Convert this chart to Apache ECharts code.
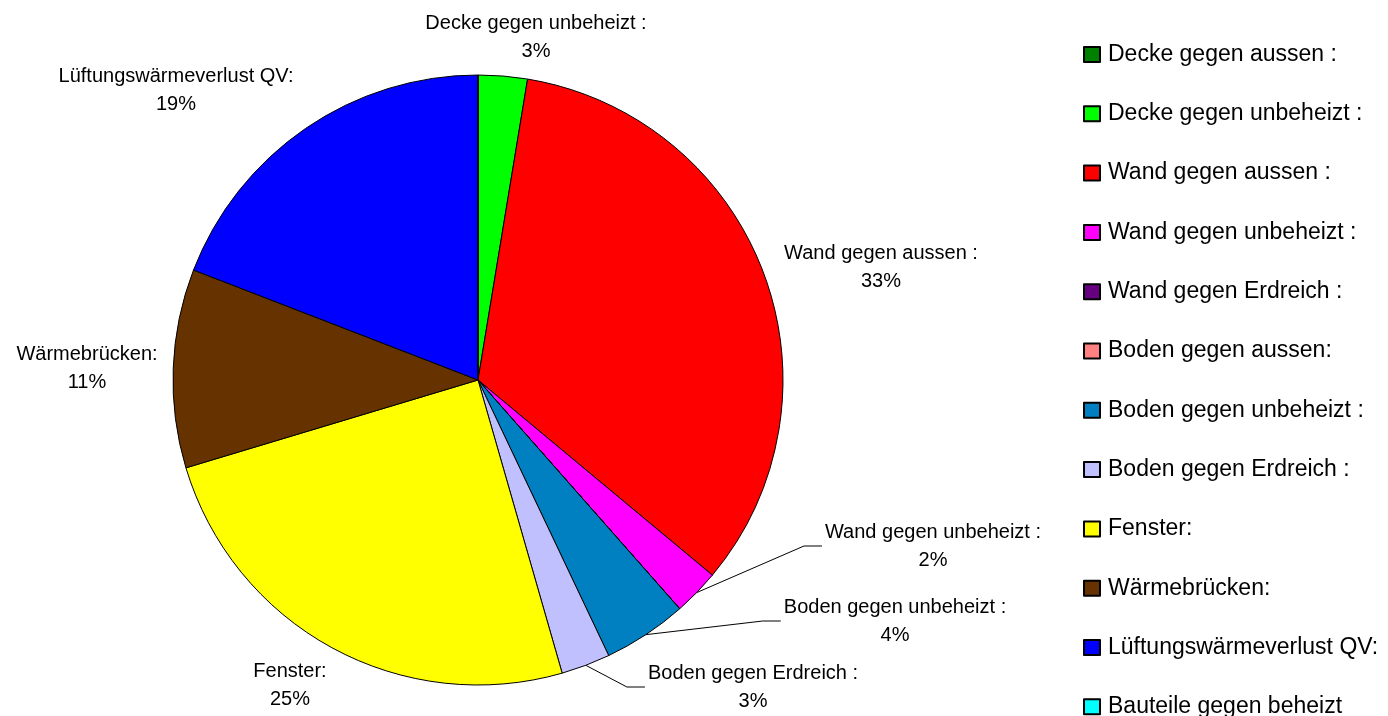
<!DOCTYPE html>
<html>
<head>
<meta charset="utf-8">
<script src="https://cdn.jsdelivr.net/npm/echarts@6/dist/echarts.min.js"></script>
<style>
html,body{margin:0;padding:0;background:#fff;}
#chart{width:1388px;height:716px;}
</style>
</head>
<body>
<div id="chart"></div>
<script>
// Categories (legend order)
const categories = [
  'Decke gegen aussen :',
  'Decke gegen unbeheizt :',
  'Wand gegen aussen :',
  'Wand gegen unbeheizt :',
  'Wand gegen Erdreich :',
  'Boden gegen aussen:',
  'Boden gegen unbeheizt :',
  'Boden gegen Erdreich :',
  'Fenster:',
  'Wärmebrücken:',
  'Lüftungswärmeverlust QV:',
  'Bauteile gegen beheizt'
];
// Share of heat loss (%)
const values = [0, 2.6, 33.45, 2.45, 0, 0, 4.45, 2.6, 24.8, 10.52, 19.13, 0];
const colors = ['#008000','#00FF00','#FF0000','#FF00FF','#660080','#FF8080',
                '#0080C0','#C0C0FF','#FFFF00','#663300','#0000FF','#00FFFF'];

// label placement (centre of label box), by category index
const labelCenters = {
  1: [536, 37],
  2: [881, 267],
  3: [933, 546],
  6: [895, 621],
  7: [753, 687],
  8: [290, 685],
  9: [87, 368],
  10: [176, 90]
};
const withLine = {3: true, 6: true, 7: true};

const data = categories.map((c, i) => ({
  name: c,
  value: values[i],
  itemStyle: {color: colors[i]},
  label: {show: values[i] > 0},
  labelLine: {show: !!withLine[i]}
}));

const chart = echarts.init(document.getElementById('chart'), null, {renderer: 'canvas'});
chart.setOption({
  animation: false,
  backgroundColor: '#fff',
  legend: {
    orient: 'vertical',
    left: 1083,
    top: 43,
    height: 1000,
    padding: 0,
    icon: 'rect',
    itemWidth: 16,
    itemHeight: 15,
    itemGap: 36.3,
    selectedMode: false,
    textStyle: {
      fontFamily: 'Liberation Sans',
      fontSize: 23,
      lineHeight: 23,
      color: '#000',
      padding: [0, 0, 0, 3]
    },
    data: categories
  },
  series: [{
    type: 'pie',
    center: [478, 380],
    radius: 305,
    startAngle: 90,
    clockwise: true,
    minAngle: 0,
    avoidLabelOverlap: false,
    itemStyle: {borderColor: '#000', borderWidth: 1},
    emphasis: {disabled: true},
    label: {
      position: 'outside',
      fontFamily: 'Liberation Sans',
      fontSize: 20,
      lineHeight: 28,
      color: '#000',
      align: 'center',
      formatter: p => p.name + '\n' + Math.round(p.percent) + '%'
    },
    labelLine: {
      length: 20,
      length2: 20,
      lineStyle: {color: '#000', width: 1}
    },
    labelLayout: function (params) {
      const pos = labelCenters[params.dataIndex];
      if (!pos) return {};
      const res = {x: pos[0], y: pos[1], align: 'center', verticalAlign: 'middle'};
      if (withLine[params.dataIndex] && params.labelLinePoints) {
        const start = params.labelLinePoints[0];
        const endX = pos[0] - params.labelRect.width / 2 - 3;
        const endY = pos[1];
        res.labelLinePoints = [start, [endX - 18, endY], [endX, endY]];
      }
      return res;
    },
    data: data
  }]
});
</script>
</body>
</html>
